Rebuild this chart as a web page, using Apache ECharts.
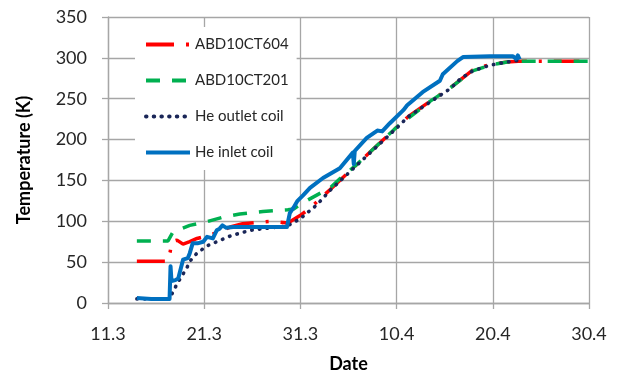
<!DOCTYPE html>
<html><head><meta charset="utf-8">
<script src="https://cdn.jsdelivr.net/npm/echarts@6/dist/echarts.min.js"></script>
<style>html,body{margin:0;padding:0;background:#fff}#c{width:624px;height:378px}</style>
</head><body><div id="c"></div>
<script>
// x values: days since 11.3
const xTickLabels = ['11.3','21.3','31.3','10.4','20.4','30.4'];
const seriesNames = ['ABD10CT604','ABD10CT201','He outlet coil','He inlet coil'];

const abd604 = [[3,51],[6.24,51],[6.45,62],[6.65,75],[7.17,77],[7.8,72],[8.5,75],[9.25,79],[10.6,83],[12.7,93],[14.0,97],[15.8,99],[17.05,100],[18.7,98],[19.96,107],[21.0,116],[23.1,139],[25.9,170],[28,193],[30,215],[31.2,228],[33.5,247],[35.55,263],[37.9,285],[39.7,292],[41.5,295],[43,296],[46,296],[49,296]];

const abd201 = [[3,76],[6.24,76],[6.76,87],[8.5,95],[10.1,99],[11.95,105],[13.7,109],[16.1,112],[17.9,113.5],[18.7,114],[19.3,115],[20.3,123],[21.7,132],[23.1,141],[24.1,152],[25.9,170],[28,193],[30,215],[33.5,247],[35.55,263],[37.9,284],[39.7,291],[41.5,295],[43,296],[50,296]];

const heOutlet = [[3,5],[6.4,5],[6.6,10],[7.2,24],[8.2,43],[8.5,51],[9.25,61],[10.3,70],[11.3,75],[12.7,82],[14.8,89],[16.8,92],[18.6,94],[19.96,103],[21.7,120],[23.1,138],[25.9,169],[28.0,192],[30,214],[31.2,228],[33.5,246],[35.55,262],[36.6,274],[37.9,284],[39.7,291],[41.5,295],[42.8,297]];

const heInlet = [[3.0,6],[4.5,5],[6.4,5],[6.5,45],[6.6,27],[7.0,28],[7.3,30],[7.8,53],[8.3,55],[8.5,61],[8.8,73],[9.3,73],[9.9,75],[10.3,81],[10.9,79],[11.3,89],[11.6,91],[11.9,95],[12.3,92],[13,93],[15,93],[17,93],[18.6,93],[18.8,95],[18.9,110],[19.3,117],[19.7,125],[20.3,132],[21.0,141],[22.35,153],[24.1,165],[25.45,184],[25.55,170],[25.65,186],[26.9,202],[28.0,211],[28.5,210],[29.3,220],[30.7,236],[31.1,242],[32.7,258],[34.5,272],[34.8,280],[36.3,296],[36.9,301],[39.7,302],[42.1,302],[42.4,299],[42.6,303],[42.8,298]];

const FONT = 'Lato';
const chart = echarts.init(document.getElementById('c'), null, {renderer:'canvas'});
const gridColor = '#a6a6a6';
chart.setOption({
  animation:false,
  backgroundColor:'#fff',
  grid:{left:108,right:35,top:17,bottom:71,containLabel:false},
  legend:{
    orient:'vertical', left:135, top:27, padding:[10,8,10,9],
    backgroundColor:'#fff', itemWidth:44, itemHeight:14, itemGap:21,
    data:seriesNames,
    itemStyle:{opacity:0},
    lineStyle:{width:4},
    textStyle:{fontFamily:FONT,fontSize:15,color:'#262626'}
  },
  xAxis:{
    type:'value', min:0, max:50, interval:10,
    name:'Date', nameLocation:'middle', nameGap:52,
    nameTextStyle:{fontFamily:FONT,fontWeight:'bold',fontSize:18,color:'#000'},
    axisLine:{show:true,lineStyle:{color:gridColor,width:1.3}},
    axisTick:{show:true,inside:false,length:6,lineStyle:{color:gridColor,width:1.3}},
    axisLabel:{margin:22,fontFamily:FONT,fontSize:18,color:'#262626',
      formatter:function(v){return xTickLabels[Math.round(v/10)];}},
    splitLine:{show:true,lineStyle:{color:gridColor,width:1.3}}
  },
  yAxis:{
    type:'value', min:0, max:350, interval:50,
    name:'Temperature (K)', nameLocation:'middle', nameGap:75, nameRotate:90,
    nameTextStyle:{fontFamily:FONT,fontWeight:'bold',fontSize:18,color:'#000'},
    axisLine:{show:true,lineStyle:{color:gridColor,width:1.3}},
    axisTick:{show:true,inside:false,length:6,lineStyle:{color:gridColor,width:1.3}},
    axisLabel:{margin:21,fontFamily:FONT,fontSize:18,color:'#262626'},
    splitLine:{show:true,lineStyle:{color:gridColor,width:1.3}}
  },
  series:[
    {name:seriesNames[0],type:'line',data:abd604,symbol:'none',
      lineStyle:{color:'#ff0000',width:3.5,type:[28,12,3,12]},itemStyle:{color:'#ff0000'}},
    {name:seriesNames[1],type:'line',data:abd201,symbol:'none',
      lineStyle:{color:'#00b050',width:3.5,type:[14,12]},itemStyle:{color:'#00b050'}},
    {name:seriesNames[2],type:'line',data:heOutlet,symbol:'none',
      lineStyle:{color:'#1a2658',width:3.6,type:[0.5,7.2],cap:'round'},itemStyle:{color:'#1a2658'}},
    {name:seriesNames[3],type:'line',data:heInlet,symbol:'none',
      lineStyle:{color:'#0070c0',width:4,join:'round'},itemStyle:{color:'#0070c0'}}
  ]
});
</script></body></html>
